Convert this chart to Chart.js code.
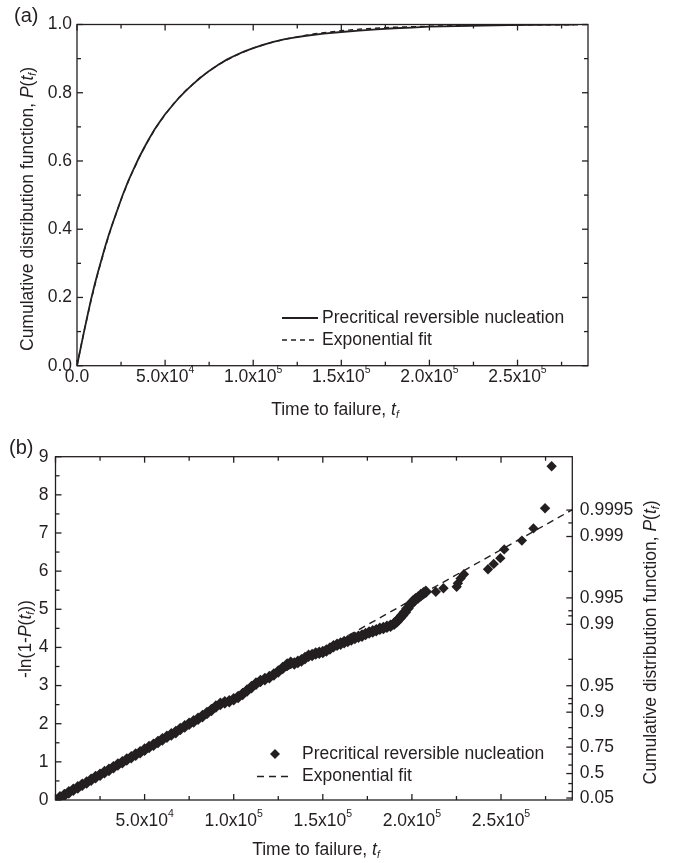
<!DOCTYPE html>
<html>
<head>
<meta charset="utf-8">
<script src="https://cdn.jsdelivr.net/npm/chart.js@4.4.1/dist/chart.umd.min.js"></script>
<style>
    html, body { margin: 0; padding: 0; background: #fff; }
    #wrap { position: relative; width: 680px; height: 863px; }
    canvas { position: absolute; left: 0; }
    #chart-a { top: 0; }
    #chart-b { top: 420px; }
</style>
</head>
<body>
<div id="wrap">
    <canvas id="chart-a" width="680" height="420"></canvas>
    <canvas id="chart-b" width="680" height="443"></canvas>
</div>
<script>
// ---- panel (a): cumulative distribution ----
const cdfTime = [0, 2000, 4000, 6000, 8000, 10000, 12000, 14000, 16000, 18000, 20000, 23000, 26000, 29000, 32000,
    35000, 38000, 41000, 44000, 47000, 50000, 54000, 58000, 62000, 66000, 70000, 75000, 80000, 85000, 90000, 95000,
    100000, 106000, 112000, 118000, 124000, 130000, 140000, 150000, 160000, 170000, 180000, 190000, 200000, 215000,
    230000, 245000, 260000, 275000, 282000];
const cdfValue = [0, 0.05, 0.10, 0.148, 0.195, 0.237, 0.276, 0.313, 0.349, 0.383, 0.414, 0.458, 0.501, 0.540, 0.575,
    0.608, 0.638, 0.666, 0.692, 0.715, 0.737, 0.762, 0.786, 0.807, 0.826, 0.844, 0.864, 0.881, 0.897, 0.910, 0.921,
    0.931, 0.941, 0.950, 0.957, 0.962, 0.967, 0.973, 0.978, 0.982, 0.986, 0.989, 0.991, 0.9935, 0.9955,
    0.997, 0.998, 0.9988, 0.9995, 1.0];

const fitTimeA = [0, 4000, 8000, 12000, 16000, 20000, 25000, 30000, 35000, 40000, 45000, 50000, 55000, 60000, 70000,
    80000, 90000, 100000, 110000, 120000, 135000, 150000, 165000, 180000, 200000, 230000, 260000, 290000];
const fitValueA = [0, 0.101, 0.192, 0.274, 0.347, 0.413, 0.487, 0.551, 0.607, 0.656, 0.699, 0.736, 0.769, 0.798, 0.845,
    0.882, 0.909, 0.931, 0.947, 0.959, 0.973, 0.982, 0.988, 0.992, 0.995, 0.998, 0.999, 0.9996];

const xTicksA = [0, 50000, 100000, 150000, 200000, 250000];
const xTickLabelsA = ['0.0', '5.0x10', '1.0x10', '1.5x10', '2.0x10', '2.5x10'];
const xTickPowersA = ['', '4', '5', '5', '5', '5'];
const xMinorA = [25000, 75000, 125000, 175000, 225000, 275000];
const yTicksA = [0, 0.2, 0.4, 0.6, 0.8, 1.0];
const yTickLabelsA = ['0.0', '0.2', '0.4', '0.6', '0.8', '1.0'];
const yMinorA = [0.1, 0.3, 0.5, 0.7, 0.9];

// ---- panel (b): -ln(1-P) ----
const scatterTime = [0, 2500, 5000, 7500, 10000, 12500, 15000, 17500, 20000, 22500, 25000, 27500, 30000, 32500,
    35000, 37500, 40000, 42500, 45000, 47500, 50000, 52500, 55000, 57500, 60000, 62500, 65000, 67500, 70000, 72500,
    75000, 77500, 80000, 82500, 85000, 87500, 90000, 92500, 95000, 97500, 100000, 102500, 105000, 107500, 110000,
    112500, 115000, 117500, 120000, 122500, 125000, 127500, 130000, 132000, 134000, 136000, 138000, 140000, 142000,
    144000, 146000, 148000, 150000, 152000, 154000, 156000, 158000, 160000, 162000, 164000, 166000, 168000, 170000,
    172000, 174000, 176000, 178000, 180000, 182000, 184000, 186000, 188000, 190000, 191500, 193000, 194500, 196000,
    197500, 199000, 200500, 202000, 203500, 205000, 206500, 207800, 213400, 217700, 225100, 225800, 227300, 229200,
    242700, 245900, 249600, 251800, 261700, 268200, 274700, 278400];
const scatterValue = [0.00, 0.07, 0.13, 0.20, 0.27, 0.33, 0.40, 0.46, 0.53, 0.60, 0.66, 0.73, 0.79, 0.86,
    0.93, 0.99, 1.06, 1.12, 1.19, 1.25, 1.32, 1.39, 1.45, 1.52, 1.59, 1.66, 1.72, 1.78, 1.86, 1.93,
    2.00, 2.06, 2.13, 2.20, 2.28, 2.36, 2.45, 2.52, 2.56, 2.59, 2.64, 2.70, 2.78, 2.87, 2.96,
    3.05, 3.12, 3.17, 3.22, 3.29, 3.37, 3.46, 3.55, 3.60, 3.58, 3.62, 3.66, 3.72, 3.78,
    3.80, 3.84, 3.86, 3.88, 3.92, 3.97, 4.03, 4.07, 4.10, 4.14, 4.17, 4.21, 4.25, 4.28,
    4.31, 4.35, 4.39, 4.42, 4.45, 4.49, 4.51, 4.54, 4.57, 4.62, 4.68, 4.76, 4.84, 4.92,
    5.02, 5.12, 5.20, 5.26, 5.31, 5.37, 5.42, 5.46, 5.46, 5.55, 5.59, 5.68, 5.81, 5.92,
    6.05, 6.19, 6.34, 6.57, 6.80, 7.12, 7.65, 8.75];

const fitTimeB = [0, 290000];
const fitValueB = [0, 7.61];

const xTicksB = [50000, 100000, 150000, 200000, 250000];
const xTickLabelsB = ['5.0x10', '1.0x10', '1.5x10', '2.0x10', '2.5x10'];
const xTickPowersB = ['4', '5', '5', '5', '5'];
const xMajorB = [0, 50000, 100000, 150000, 200000, 250000];
const xMinorB = [25000, 75000, 125000, 175000, 225000, 275000];
const yTicksB = [0, 1, 2, 3, 4, 5, 6, 7, 8, 9];
const yMinorB = [0.5, 1.5, 2.5, 3.5, 4.5, 5.5, 6.5, 7.5, 8.5];
const probTicks = [0.05, 0.5, 0.75, 0.9, 0.95, 0.99, 0.995, 0.999, 0.9995];
const probLabels = ['0.05', '0.5', '0.75', '0.9', '0.95', '0.99', '0.995', '0.999', '0.9995'];
const probMinor = [0.2, 0.35, 0.6, 0.7, 0.8, 0.85, 0.92, 0.93, 0.975, 0.992, 0.993, 0.9975, 0.9993];
const denseEnd = 207800; // the diamonds pile up into a thick band up to here

const FONT = '"Liberation Sans", Arial, sans-serif';
const INK = '#231f20';
const SIZE = 17.5;

const probToAxis = p => -Math.log(1 - p);
const toPoints = (xs, ys) => xs.map((x, i) => ({ x: x, y: ys[i] }));

function partFont(p, size) {
    const s = (p.sub || p.sup) ? size * 0.6 : size;
    return (p.i ? 'italic ' : '') + s + 'px ' + FONT;
}

// centred text made of plain / italic / sub / superscript pieces
function richText(ctx, parts, x, y, rot, size) {
    ctx.save();
    ctx.translate(x, y);
    ctx.rotate(rot);
    ctx.fillStyle = INK;
    ctx.textBaseline = 'middle';
    ctx.textAlign = 'left';
    let total = 0;
    parts.forEach(p => { ctx.font = partFont(p, size); total += ctx.measureText(p.t).width; });
    let cx = -total / 2;
    parts.forEach(p => {
        ctx.font = partFont(p, size);
        const dy = p.sub ? size * 0.3 : (p.sup ? -size * 0.42 : 0);
        ctx.fillText(p.t, cx, dy);
        cx += ctx.measureText(p.t).width;
    });
    ctx.restore();
}

// box round the plot plus inward tick marks on every side
const frameTicks = {
    id: 'frameTicks',
    afterDatasetsDraw(chart, args, o) {
        const { ctx, chartArea: a, scales } = chart;
        ctx.save();
        ctx.strokeStyle = INK;
        ctx.lineWidth = 1.3;
        ctx.strokeRect(a.left, a.top, a.right - a.left, a.bottom - a.top);
        const line = (x1, y1, x2, y2) => { ctx.beginPath(); ctx.moveTo(x1, y1); ctx.lineTo(x2, y2); ctx.stroke(); };
        const xs = (vals, len) => vals.forEach(v => {
            const px = scales.x.getPixelForValue(v);
            line(px, a.bottom, px, a.bottom - len);
            line(px, a.top, px, a.top + len);
        });
        const ys = (scale, vals, len, left, right) => vals.forEach(v => {
            const py = scale.getPixelForValue(v);
            if (left) line(a.left, py, a.left + len, py);
            if (right) line(a.right, py, a.right - len, py);
        });
        xs(o.xMajor, 6);
        xs(o.xMinor, 4);
        ys(scales.y, o.yMajor, 6, true, !o.y2Major);
        ys(scales.y, o.yMinor, 4, true, !o.y2Major);
        if (o.y2Major) {
            ys(scales.y2, o.y2Major, 6, false, true);
            ys(scales.y2, o.y2Minor, 4, false, true);
        }
        ctx.restore();
    }
};

// x tick labels (with small exponents), titles, panel letter and legend
const decorations = {
    id: 'decorations',
    afterDraw(chart, args, o) {
        const ctx = chart.ctx;
        const xl = o.xLabels;
        xl.values.forEach((v, i) => {
            const parts = [{ t: xl.text[i] }];
            if (xl.powers[i]) parts.push({ t: xl.powers[i], sup: true });
            richText(ctx, parts, chart.scales.x.getPixelForValue(v), xl.y, 0, SIZE);
        });
        o.titles.forEach(t => richText(ctx, t.parts, t.x, t.y, t.rot || 0, SIZE));
        ctx.save();
        ctx.fillStyle = INK;
        ctx.font = '20px ' + FONT;
        ctx.textBaseline = 'middle';
        ctx.fillText(o.letter.t, o.letter.x, o.letter.y);
        ctx.font = SIZE + 'px ' + FONT;
        o.legend.forEach(item => {
            const ds = chart.data.datasets[item.dataset];
            ctx.strokeStyle = INK;
            ctx.fillStyle = INK;
            if (ds.showLine) {
                ctx.lineWidth = ds.borderWidth;
                ctx.setLineDash(ds.borderDash || []);
                ctx.beginPath();
                ctx.moveTo(item.x1, item.y);
                ctx.lineTo(item.x2, item.y);
                ctx.stroke();
                ctx.setLineDash([]);
            } else {
                const r = 5, cx = (item.x1 + item.x2) / 2;
                ctx.beginPath();
                ctx.moveTo(cx, item.y - r);
                ctx.lineTo(cx + r, item.y);
                ctx.lineTo(cx, item.y + r);
                ctx.lineTo(cx - r, item.y);
                ctx.closePath();
                ctx.fill();
            }
            ctx.fillText(ds.label, item.tx, item.y);
        });
        ctx.restore();
    }
};

function tickFont() {
    return { family: FONT, size: SIZE };
}

new Chart(document.getElementById('chart-a'), {
    type: 'scatter',
    data: {
        datasets: [
            { label: 'Precritical reversible nucleation', data: toPoints(cdfTime, cdfValue), showLine: true,
              borderColor: INK, borderWidth: 1.8, pointRadius: 0 },
            { label: 'Exponential fit', data: toPoints(fitTimeA, fitValueA), showLine: true,
              borderColor: INK, borderWidth: 1.4, borderDash: [5, 4], pointRadius: 0 }
        ]
    },
    options: {
        responsive: false,
        animation: false,
        events: [],
        layout: { padding: { left: 0, top: 24.5, right: 92, bottom: 0 }, autoPadding: false },
        plugins: {
            legend: { display: false },
            tooltip: { enabled: false },
            frameTicks: { xMajor: xTicksA, xMinor: xMinorA, yMajor: yTicksA, yMinor: yMinorA },
            decorations: {
                xLabels: { values: xTicksA, text: xTickLabelsA, powers: xTickPowersA, y: 377 },
                letter: { t: '(a)', x: 14, y: 16 },
                titles: [
                    { parts: [{ t: 'Time to failure, ' }, { t: 't', i: true }, { t: 'f', i: true, sub: true }], x: 335, y: 410 },
                    { parts: [{ t: 'Cumulative distribution function, ' }, { t: 'P', i: true }, { t: '(' },
                              { t: 't', i: true }, { t: 'f', i: true, sub: true }, { t: ')' }], x: 28, y: 209, rot: -Math.PI / 2 }
                ],
                legend: [
                    { dataset: 0, x1: 282, x2: 318, y: 318, tx: 322 },
                    { dataset: 1, x1: 282, x2: 318, y: 340, tx: 322 }
                ]
            }
        },
        scales: {
            x: {
                type: 'linear', min: 0, max: 290000,
                grid: { display: false, drawTicks: false }, border: { display: false },
                afterBuildTicks: s => { s.ticks = xTicksA.map(v => ({ value: v })); },
                afterFit: s => { s.height = 54.3; },
                ticks: { display: false }
            },
            y: {
                type: 'linear', min: 0, max: 1,
                grid: { display: false, drawTicks: false }, border: { display: false },
                afterBuildTicks: s => { s.ticks = yTicksA.map(v => ({ value: v })); },
                afterFit: s => { s.width = 77; },
                ticks: { font: tickFont(), color: INK, padding: 5, autoSkip: false,
                         callback: (v, i) => yTickLabelsA[i] }
            }
        }
    },
    plugins: [frameTicks, decorations]
});

new Chart(document.getElementById('chart-b'), {
    type: 'scatter',
    data: {
        datasets: [
            { label: 'Precritical reversible nucleation', data: toPoints(scatterTime, scatterValue),
              pointStyle: 'rectRot', backgroundColor: INK, borderWidth: 0,
              pointRadius: c => (c.raw && c.raw.x <= denseEnd ? 6.3 : 5.2) },
            { label: 'Exponential fit', data: toPoints(fitTimeB, fitValueB), showLine: true,
              borderColor: INK, borderWidth: 1.4, borderDash: [7, 5], pointRadius: 0 }
        ]
    },
    options: {
        responsive: false,
        animation: false,
        events: [],
        layout: { padding: { left: 0, top: 36.7, right: 0, bottom: 0 }, autoPadding: false },
        plugins: {
            legend: { display: false },
            tooltip: { enabled: false },
            frameTicks: { xMajor: xMajorB, xMinor: xMinorB, yMajor: yTicksB, yMinor: yMinorB,
                          y2Major: probTicks.map(probToAxis), y2Minor: probMinor.map(probToAxis) },
            decorations: {
                xLabels: { values: xTicksB, text: xTickLabelsB, powers: xTickPowersB, y: 401 },
                letter: { t: '(b)', x: 9, y: 28 },
                titles: [
                    { parts: [{ t: 'Time to failure, ' }, { t: 't', i: true }, { t: 'f', i: true, sub: true }], x: 316, y: 430 },
                    { parts: [{ t: '-ln(1-' }, { t: 'P', i: true }, { t: '(' }, { t: 't', i: true },
                              { t: 'f', i: true, sub: true }, { t: '))' }], x: 26, y: 219, rot: -Math.PI / 2 },
                    { parts: [{ t: 'Cumulative distribution function, ' }, { t: 'P', i: true }, { t: '(' },
                              { t: 't', i: true }, { t: 'f', i: true, sub: true }, { t: ')' }], x: 651, y: 222.5, rot: -Math.PI / 2 }
                ],
                legend: [
                    { dataset: 0, x1: 257, x2: 293, y: 334, tx: 302 },
                    { dataset: 1, x1: 257, x2: 293, y: 356.5, tx: 302 }
                ]
            }
        },
        scales: {
            x: {
                type: 'linear', min: 0, max: 290000,
                grid: { display: false, drawTicks: false }, border: { display: false },
                afterBuildTicks: s => { s.ticks = xTicksB.map(v => ({ value: v })); },
                afterFit: s => { s.height = 63; },
                ticks: { display: false }
            },
            y: {
                type: 'linear', min: 0, max: 9,
                grid: { display: false, drawTicks: false }, border: { display: false },
                afterBuildTicks: s => { s.ticks = yTicksB.map(v => ({ value: v })); },
                afterFit: s => { s.width = 55.5; },
                ticks: { font: tickFont(), color: INK, padding: 7, autoSkip: false,
                         callback: v => String(v) }
            },
            y2: {
                type: 'linear', position: 'right', min: 0, max: 9,
                grid: { display: false, drawTicks: false }, border: { display: false },
                afterBuildTicks: s => { s.ticks = probTicks.map(p => ({ value: probToAxis(p) })); },
                afterFit: s => { s.width = 107.7; },
                ticks: { font: tickFont(), color: INK, padding: 7.5, autoSkip: false,
                         callback: (v, i) => probLabels[i] }
            }
        }
    },
    plugins: [frameTicks, decorations]
});
</script>
</body>
</html>
